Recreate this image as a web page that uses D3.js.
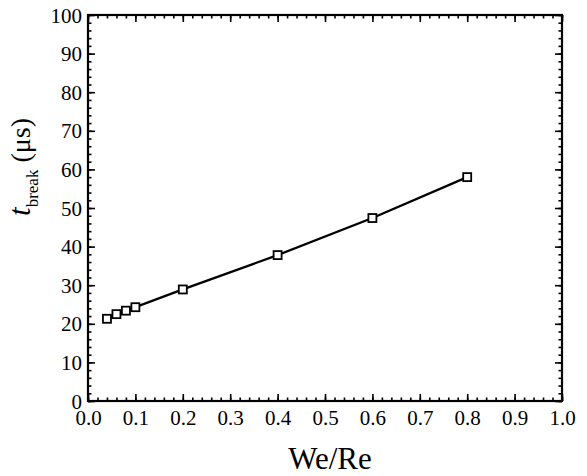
<!DOCTYPE html>
<html>
<head>
<meta charset="utf-8">
<script src="https://cdn.jsdelivr.net/npm/d3@7"></script>
<style>
  body { margin: 0; background: #fff; }
  svg { display: block; }
</style>
</head>
<body>
<svg></svg>
<script>
let width = 587;
let height = 476;
let plotLeft = 88, plotRight = 562, plotTop = 15, plotBottom = 401;
let serif = "'Liberation Serif', 'Times New Roman', Tinos, 'DejaVu Serif', serif";

// data
let weRe = [0.04, 0.06, 0.08, 0.1, 0.2, 0.4, 0.6, 0.8];
let tBreak = [21.3, 22.5, 23.4, 24.3, 28.9, 37.8, 47.4, 58.0];
let xTicks = [0, 0.1, 0.2, 0.3, 0.4, 0.5, 0.6, 0.7, 0.8, 0.9, 1.0];
let yTicks = [0, 10, 20, 30, 40, 50, 60, 70, 80, 90, 100];
let xMinor = d3.range(0, 1.0001, 0.02);
let yMinor = d3.range(0, 100.001, 2);

let svg = d3.select("svg").attr("width", width).attr("height", height);

let xScale = d3.scaleLinear().domain([0, 1]).range([plotLeft, plotRight]);
let yScale = d3.scaleLinear().domain([0, 100]).range([plotBottom, plotTop]);

let styleAxis = (g) => {
    g.select(".domain").remove();
    g.attr("font-family", serif);
    g.selectAll("line").attr("stroke", "#000").attr("stroke-width", 1.6);
};

// minor ticks on all four sides
svg.append("g").attr("transform", "translate(0," + plotBottom + ")")
    .call(d3.axisBottom(xScale).tickValues(xMinor).tickSize(-3.5).tickFormat(""))
    .call(styleAxis);
svg.append("g").attr("transform", "translate(0," + plotTop + ")")
    .call(d3.axisTop(xScale).tickValues(xMinor).tickSize(-3.5).tickFormat(""))
    .call(styleAxis);
svg.append("g").attr("transform", "translate(" + plotLeft + ",0)")
    .call(d3.axisLeft(yScale).tickValues(yMinor).tickSize(-3.5).tickFormat(""))
    .call(styleAxis);
svg.append("g").attr("transform", "translate(" + plotRight + ",0)")
    .call(d3.axisRight(yScale).tickValues(yMinor).tickSize(-3.5).tickFormat(""))
    .call(styleAxis);

// major ticks
let xAxis = svg.append("g").attr("transform", "translate(0," + plotBottom + ")")
    .call(d3.axisBottom(xScale).tickValues(xTicks).tickSize(-7).tickFormat(d3.format(".1f")))
    .call(styleAxis);
xAxis.selectAll("text").attr("y", 24).attr("dy", null)
    .attr("fill", "#000")
    .style("font-family", serif).style("font-size", "21px");

svg.append("g").attr("transform", "translate(0," + plotTop + ")")
    .call(d3.axisTop(xScale).tickValues(xTicks).tickSize(-7).tickFormat(""))
    .call(styleAxis);

let yAxis = svg.append("g").attr("transform", "translate(" + plotLeft + ",0)")
    .call(d3.axisLeft(yScale).tickValues(yTicks).tickSize(-7).tickFormat(d3.format("d")))
    .call(styleAxis);
yAxis.selectAll("text").attr("x", -6).attr("dy", "0.34em")
    .attr("fill", "#000")
    .style("font-family", serif).style("font-size", "21px");

svg.append("g").attr("transform", "translate(" + plotRight + ",0)")
    .call(d3.axisRight(yScale).tickValues(yTicks).tickSize(-7).tickFormat(""))
    .call(styleAxis);

// frame
svg.append("rect")
    .attr("x", plotLeft).attr("y", plotTop)
    .attr("width", plotRight - plotLeft).attr("height", plotBottom - plotTop)
    .attr("fill", "none").attr("stroke", "#000").attr("stroke-width", 2.2);

// line + markers
let points = weRe.map((d, i) => [d, tBreak[i]]);
let line = d3.line().x(d => xScale(d[0])).y(d => yScale(d[1]));
svg.append("path").datum(points)
    .attr("d", line)
    .attr("fill", "none").attr("stroke", "#000").attr("stroke-width", 2.3);

let s = 8;
svg.selectAll(".mk").data(points).enter().append("rect")
    .attr("class", "mk")
    .attr("x", d => xScale(d[0]) - s / 2)
    .attr("y", d => yScale(d[1]) - s / 2)
    .attr("width", s).attr("height", s)
    .attr("fill", "#fff").attr("stroke", "#000").attr("stroke-width", 1.8);

// axis titles
svg.append("text")
    .attr("x", 330).attr("y", 469)
    .attr("text-anchor", "middle")
    .style("font-family", serif).style("font-size", "31px")
    .text("We/Re");

let yt = svg.append("text")
    .attr("transform", "translate(30,167) rotate(-90)")
    .attr("text-anchor", "middle")
    .style("font-family", serif).style("font-size", "28px");
yt.append("tspan").style("font-style", "italic").style("font-size", "31px").text("t");
yt.append("tspan").attr("dy", 8).style("font-size", "17px").text("break");
yt.append("tspan").attr("dy", -8).text(" (\u03bcs)");
</script>
</body>
</html>
